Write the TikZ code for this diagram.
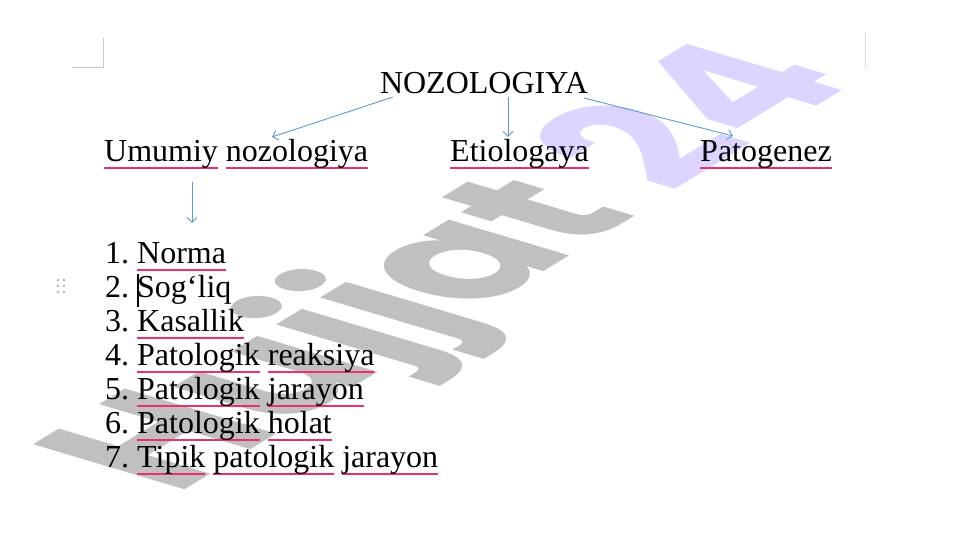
\documentclass[tikz,border=0pt]{standalone}
\usepackage{fontspec}
\setmainfont{Liberation Serif}
\newfontfamily\wmfont{Poppins}
\usetikzlibrary{arrows.meta,calc}
\definecolor{arrowblue}{RGB}{91,155,213}
\definecolor{spell}{RGB}{232,50,105}
\definecolor{wmgray}{RGB}{192,192,192}
\definecolor{wmpurple}{RGB}{221,212,255}
\definecolor{cornergray}{RGB}{200,200,200}
\newsavebox\splbox
\newcommand\splw[1]{\sbox\splbox{#1}\rlap{\textcolor{spell}{\vrule height -4.7pt depth 6.6pt width \wd\splbox}}\usebox\splbox}
\tikzset{
  txt/.style={inner sep=0, font=\fontsize{32}{34}\selectfont, anchor=base west},
  arr/.style={draw=arrowblue, line width=0.9pt, -{Straight Barb[length=5pt,width=10pt]}},
  corner/.style={draw=cornergray, line width=0.9pt},
  dot/.style={fill=gray!60, draw=none}
}
\begin{document}
\begin{tikzpicture}[x=1pt,y=1pt]
\useasboundingbox (0,0) rectangle (961,540);
\fill[white] (0,0) rectangle (961,540);
% watermark
\begin{scope}[shift={(460,270)}, xscale=2.35]
  \node[rotate=55, transform shape, inner sep=0, font=\wmfont\bfseries\fontsize{112}{112}\selectfont] (wm) {\textcolor{wmgray}{Hujjat} \textcolor{wmpurple}{24}};
\end{scope}
% page corner marks
\draw[corner] (72,473) -- (103,473) -- (103,502);
\draw[draw=gray!25, line width=0.9pt] (865,508) -- (865,473) -- (868,473);
% headings
\node[inner sep=0, anchor=base, font=\fontsize{32}{34}\selectfont] (noz) at (484,446) {NOZOLOGIYA};
\node[txt] (umu) at (104,378) {\splw{Umumiy} \splw{nozologiya}};
\node[txt] (eti) at (450,378) {\splw{Etiologaya}};
\node[txt] (pat) at (700,378) {\splw{Patogenez}};
% list
\node[txt] (i1) at (105,276) {1.\ \splw{Norma}};
\node[txt] (i2) at (105,242) {2.\ Sog‘liq};
\node[txt] (i3) at (105,208) {3.\ \splw{Kasallik}};
\node[txt] (i4) at (105,174) {4.\ \splw{Patologik} \splw{reaksiya}};
\node[txt] (i5) at (105,140) {5.\ \splw{Patologik} \splw{jarayon}};
\node[txt] (i6) at (105,106) {6.\ \splw{Patologik} \splw{holat}};
\node[txt] (i7) at (105,72) {7.\ \splw{Tipik} \splw{patologik} \splw{jarayon}};
% cursor
\draw[line width=1.1pt, black] ([shift={(33,-9)}]i2.base west) -- ([shift={(33,24)}]i2.base west);
% drag handle
\foreach \yy in {260,254,248} {
  \fill[dot] (58,\yy) circle (1.4);
  \fill[dot] (64,\yy) circle (1.4);
}
% arrows
\draw[arr] ([shift={(-91,-3)}]noz.base) -- ([shift={(168,25)}]umu.base west);
\draw[arr] ([shift={(24,-3)}]noz.base) -- ([shift={(58,25)}]eti.base west);
\draw[arr] ([shift={(100,-4)}]noz.base) -- ([shift={(33,26)}]pat.base west);
\draw[arr] ([shift={(88,-20)}]umu.base west) -- ([shift={(87,41)}]i1.base west);
\end{tikzpicture}
\end{document}
